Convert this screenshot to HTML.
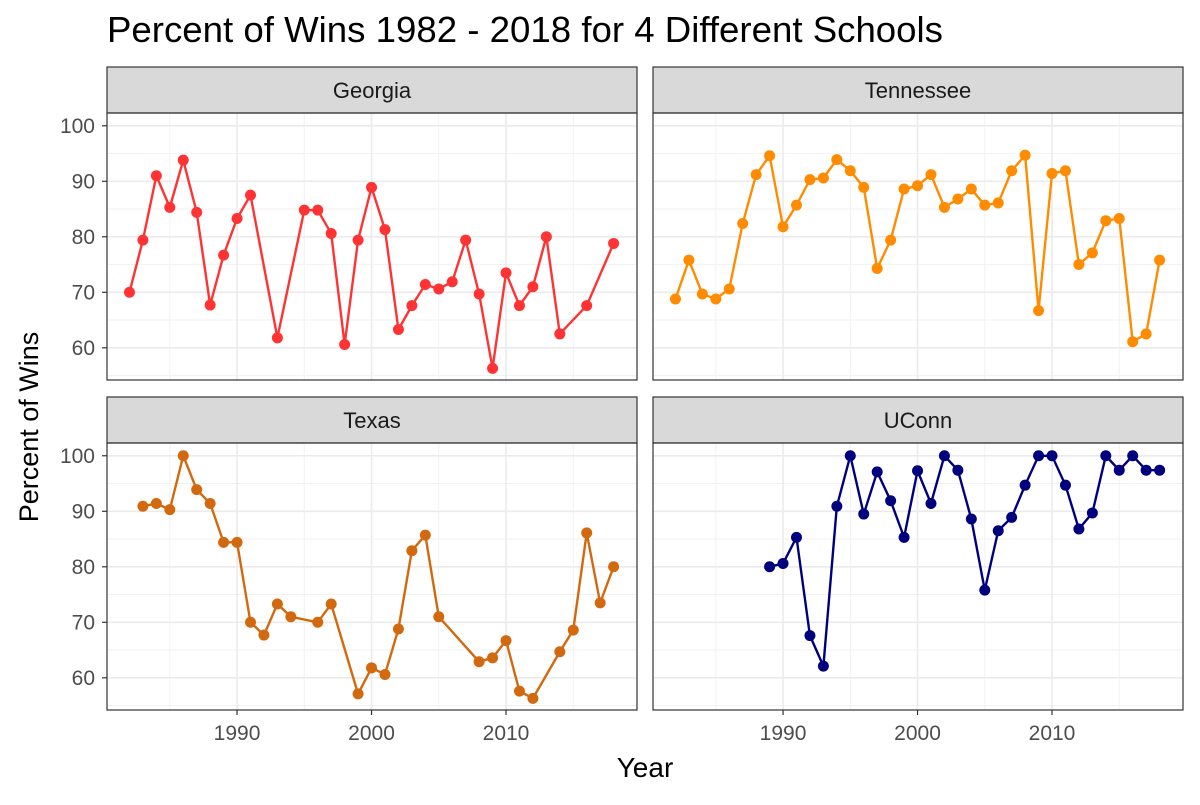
<!DOCTYPE html>
<html><head><meta charset="utf-8"><style>
body{margin:0;background:#fff;font-family:"Liberation Sans",sans-serif}
svg text{font-family:"Liberation Sans",sans-serif}
</style></head><body>
<svg id="chart" width="1200" height="800">
<text x="107" y="42" font-size="36" fill="#000" textLength="836" lengthAdjust="spacingAndGlyphs">Percent of Wins 1982 - 2018 for 4 Different Schools</text>
<text x="645" y="777" font-size="28" text-anchor="middle">Year</text>
<text transform="translate(38,427) rotate(-90)" font-size="27" text-anchor="middle">Percent of Wins</text>
</svg>
<script>
const schools=["Georgia","Tennessee","Texas","UConn"];
const colors=["#FF3333","#FF8C00","#D2690E","#00007F"];
const georgiaYears=[1982,1983,1984,1985,1986,1987,1988,1989,1990,1991,1993,1995,1996,1997,1998,1999,2000,2001,2002,2003,2004,2005,2006,2007,2008,2009,2010,2011,2012,2013,2014,2016,2018];
const georgiaPct=[70,79.4,91,85.3,93.8,84.4,67.7,76.7,83.3,87.5,61.8,84.8,84.8,80.6,60.6,79.4,88.9,81.3,63.3,67.6,71.4,70.6,71.9,79.4,69.7,56.3,73.5,67.6,71,80,62.5,67.6,78.8];
const tennesseeYears=[1982,1983,1984,1985,1986,1987,1988,1989,1990,1991,1992,1993,1994,1995,1996,1997,1998,1999,2000,2001,2002,2003,2004,2005,2006,2007,2008,2009,2010,2011,2012,2013,2014,2015,2016,2017,2018];
const tennesseePct=[68.8,75.8,69.7,68.8,70.6,82.4,91.2,94.6,81.8,85.7,90.3,90.6,93.9,91.9,88.9,74.3,79.4,88.6,89.2,91.2,85.3,86.8,88.6,85.7,86.1,91.9,94.7,66.7,91.4,91.9,75,77.1,82.9,83.3,61.1,62.5,75.8];
const texasYears=[1983,1984,1985,1986,1987,1988,1989,1990,1991,1992,1993,1994,1996,1997,1999,2000,2001,2002,2003,2004,2005,2008,2009,2010,2011,2012,2014,2015,2016,2017,2018];
const texasPct=[90.9,91.4,90.3,100,93.9,91.4,84.4,84.4,70,67.7,73.3,71,70,73.3,57.1,61.8,60.6,68.8,82.9,85.7,71,62.9,63.6,66.7,57.6,56.3,64.7,68.6,86.1,73.5,80];
const uconnYears=[1989,1990,1991,1992,1993,1994,1995,1996,1997,1998,1999,2000,2001,2002,2003,2004,2005,2006,2007,2008,2009,2010,2011,2012,2013,2014,2015,2016,2017,2018];
const uconnPct=[80,80.6,85.3,67.6,62.1,90.9,100,89.5,97.1,91.9,85.3,97.3,91.4,100,97.4,88.6,75.8,86.5,88.9,94.7,100,100,94.7,86.8,89.7,100,97.4,100,97.4,97.4];
const yTicks=[60,70,80,90,100];
const xTicks=[1990,2000,2010];
const allYears=[georgiaYears,tennesseeYears,texasYears,uconnYears];
const allPct=[georgiaPct,tennesseePct,texasPct,uconnPct];

const svg=document.getElementById('chart');
const NS="http://www.w3.org/2000/svg";
function mk(tag,attrs,parent){const e=document.createElementNS(NS,tag);for(const k in attrs)e.setAttribute(k,attrs[k]);(parent||svg).appendChild(e);return e;}
const panels=[{x:107,y:67},{x:653,y:67},{x:107,y:397},{x:653,y:397}];
const W=530,STRIP=46,PH=267;
const xMin=1980.33,xMax=2019.74,yMin=54.2,yMax=102.3;
panels.forEach((p,i)=>{
  const top=p.y+STRIP;
  const X=v=>p.x+(v-xMin)/(xMax-xMin)*W;
  const Y=v=>top+PH-(v-yMin)/(yMax-yMin)*PH;
  const g=mk('g',{});
  
  
  for(let v=55;v<=100;v+=10){mk('line',{x1:p.x,x2:p.x+W,y1:Y(v),y2:Y(v),stroke:'#f2f2f2','stroke-width':1},g);}
  for(let v=1985;v<=2015;v+=10){mk('line',{x1:X(v),x2:X(v),y1:top,y2:top+PH,stroke:'#f2f2f2','stroke-width':1},g);}
  yTicks.forEach(v=>{const l=mk('line',{x1:p.x,x2:p.x+W,y1:Y(v),y2:Y(v),stroke:'#ebebeb','stroke-width':1.6},g);
    });
  xTicks.forEach(v=>{const l=mk('line',{x1:X(v),x2:X(v),y1:top,y2:top+PH,stroke:'#ebebeb','stroke-width':1.6},g);
    });
  const s=mk('rect',{x:p.x,y:p.y,width:W,height:STRIP,fill:'#d9d9d9',stroke:'#333','stroke-width':1.2},g);
  
  const st=mk('text',{x:p.x+W/2,y:p.y+31,'font-size':22,'text-anchor':'middle',fill:'#1a1a1a'},g);st.textContent=schools[i];
  
  const yrs=allYears[i],pct=allPct[i];
  const pl=mk('polyline',{points:yrs.map((y,k)=>X(y)+','+Y(pct[k])).join(' '),fill:'none',stroke:colors[i],'stroke-width':2.4},g);
  
  yrs.forEach((y,k)=>{const c=mk('circle',{cx:X(y),cy:Y(pct[k]),r:5.5,fill:colors[i]},g);
    });
  const b=mk('rect',{x:p.x,y:top,width:W,height:PH,fill:'none',stroke:'#333','stroke-width':1.2},g);
  
  if(i%2===0){yTicks.forEach(v=>{mk('line',{x1:p.x-5,x2:p.x,y1:Y(v),y2:Y(v),stroke:'#333','stroke-width':1.2},g);
    const t=mk('text',{x:p.x-12,y:Y(v)+7,'font-size':21,'text-anchor':'end',fill:'#4d4d4d'},g);t.textContent=v;
    });}
  if(i>=2){xTicks.forEach(v=>{mk('line',{x1:X(v),x2:X(v),y1:top+PH,y2:top+PH+5,stroke:'#333','stroke-width':1.2},g);
    const t=mk('text',{x:X(v),y:top+PH+30,'font-size':21,'text-anchor':'middle',fill:'#4d4d4d'},g);t.textContent=v;
    });}
});
</script>
</body></html>
